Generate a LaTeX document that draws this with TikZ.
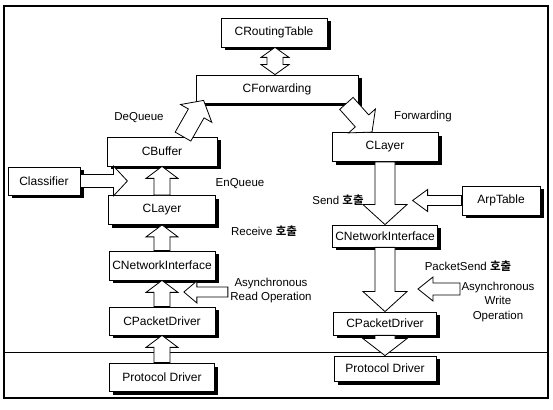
\documentclass[tikz,border=0pt]{standalone}
\usepackage{fontspec}
\setmainfont{Liberation Sans}
\newfontfamily\kr{Noto Sans CJK KR Bold}
\usetikzlibrary{positioning, shadows, calc}
\tikzset{
	x=1pt, y=1pt, % one unit is one pixel of the reference
	box/.style={draw, fill=white, line width=0.8pt, minimum height=29pt, inner sep=1pt,
		font=\fontsize{12}{14}\selectfont,
		drop shadow={shadow xshift=3.5pt, shadow yshift=-3.5pt, fill=black, opacity=1}}, % boxes with black shadow
	lbl/.style={font=\fontsize{11.5}{14.5}\selectfont, align=center}, % labels beside the arrows
	arrowbody/.style={draw, fill=white, line width=0.8pt, line join=miter}
}
% hollow block arrow: shaft half width, head half width, head length, from, to
\newcommand{\barrow}[5]{%
	\coordinate (neck) at ($(#5)!#3!(#4)$);
	\draw[arrowbody] ($(#4)!#1!-90:(#5)$) -- ($(neck)!#1!90:(#4)$) -- ($(neck)!#2!90:(#4)$) -- (#5)
		-- ($(neck)!#2!-90:(#4)$) -- ($(neck)!#1!-90:(#4)$) -- ($(#4)!#1!90:(#5)$) -- cycle;}
% hollow block arrow with two heads
\newcommand{\dbarrow}[5]{%
	\coordinate (necka) at ($(#4)!#3!(#5)$);
	\coordinate (neckb) at ($(#5)!#3!(#4)$);
	\draw[arrowbody] (#4) -- ($(necka)!#2!90:(#5)$) -- ($(necka)!#1!90:(#5)$) -- ($(neckb)!#1!-90:(#4)$)
		-- ($(neckb)!#2!-90:(#4)$) -- (#5) -- ($(neckb)!#2!90:(#4)$) -- ($(neckb)!#1!90:(#4)$)
		-- ($(necka)!#1!-90:(#5)$) -- ($(necka)!#2!-90:(#5)$) -- cycle;}

\begin{document}
\begin{tikzpicture}
	\useasboundingbox (0,0) rectangle (553,409);
	\draw[line width=1.2pt] (4,11) rectangle (548,403);
	\draw[line width=0.8pt] (4,57) -- (548,57);

	% top
	\node[box, minimum width=106pt] (rout) at (274,376.5) {CRoutingTable};
	\node[box, minimum width=162pt, minimum height=28pt, node distance=56.5pt, below of=rout, xshift=3pt] (fwd) {CForwarding};

	% receive side
	\node[box, minimum width=110pt] (bufL) at (162,257.5) {CBuffer};
	\node[box, minimum width=107pt, node distance=58.5pt, below of=bufL] (layL) {CLayer};
	\node[box, minimum width=106pt, node distance=55.5pt, below of=layL] (niL) {CNetworkInterface};
	\node[box, minimum width=106pt, minimum height=28pt, node distance=55.5pt, below of=niL] (pdL) {CPacketDriver};
	\node[box, minimum width=105pt, minimum height=28pt, node distance=56pt, below of=pdL] (protoL) {Protocol Driver};
	\node[box, minimum width=72pt, minimum height=28pt] (clsf) at (44,228) {Classifier};

	% send side
	\node[box, minimum width=106pt] (layR) at (385,262) {CLayer};
	\node[box, minimum width=105pt, minimum height=22pt, node distance=89pt, below of=layR] (niR) {CNetworkInterface};
	\node[box, minimum width=103pt, minimum height=23pt, node distance=87.5pt, below of=niR] (pdR) {CPacketDriver};
	\node[box, minimum width=102pt, minimum height=25pt, node distance=45pt, below of=pdR] (protoR) {Protocol Driver};
	\node[box, minimum width=78pt] (arp) at (501,208.5) {ArpTable};

	% labels
	\node[lbl] (deq) at (139,291) {DeQueue};
	\node[lbl] (fwdl) at (423,292) {Forwarding};
	\node[lbl] (enq) at (240,225) {EnQueue};
	\node[lbl] (recv) at (264,178) {Receive {\kr 호출}};
	\node[lbl] (send) at (338,209) {Send {\kr 호출}};
	\node[lbl] (pks) at (468,143) {PacketSend {\kr 호출}};
	\node[lbl] (rdop) at (271,118.5) {Asynchronous\\Read Operation};
	\node[lbl] (wrop) at (498,107) {Asynchronous\\Write\\Operation};

	% arrow ends
	\coordinate (rt1) at ($(rout.south)+(1,0)$);
	\coordinate (rt2) at (rt1 |- fwd.north);
	\coordinate (dq1) at ($(bufL.north)+(21,0)$);
	\coordinate (dq2) at ($(fwd.south west)+(8,3)$);
	\coordinate (fw1) at ($(fwd.south east)+(-12,0)$);
	\coordinate (fw2) at ($(layR.north)+(-13,0)$);
	\coordinate (cl2) at ($(clsf.east)+(47,0)$);
	\coordinate (ar2) at ($(arp.west)+(-49,0)$);
	\coordinate (rd1) at ($(rdop.west)+(1,-1.5)$);
	\coordinate (rd2) at ($(rdop.west)+(-43,-1.5)$);
	\coordinate (wr1) at (460,120);
	\coordinate (wr2) at (418,120);

	% arrows
	\dbarrow{8pt}{14pt}{10pt}{rt1}{rt2}
	\barrow{9pt}{18pt}{15pt}{dq1}{dq2}
	\barrow{9pt}{18pt}{15pt}{fw1}{fw2}
	\barrow{6.5pt}{15pt}{14pt}{clsf.east}{cl2}
	\barrow{8pt}{16pt}{12pt}{layL.north}{bufL.south}
	\barrow{8pt}{16pt}{12pt}{niL.north}{layL.south}
	\barrow{8pt}{16pt}{12pt}{pdL.north}{niL.south}
	\barrow{8pt}{16pt}{12pt}{protoL.north}{pdL.south}
	\barrow{10pt}{22pt}{20pt}{layR.south}{niR.north}
	\barrow{10pt}{22pt}{20pt}{niR.south}{pdR.north}
	\barrow{10pt}{22pt}{17pt}{pdR.south}{protoR.north}
	\barrow{5pt}{11pt}{15pt}{arp.west}{ar2}
	\barrow{5pt}{11pt}{13pt}{rd1}{rd2}
	\barrow{6pt}{12pt}{15pt}{wr1}{wr2}
\end{tikzpicture}
\end{document}
